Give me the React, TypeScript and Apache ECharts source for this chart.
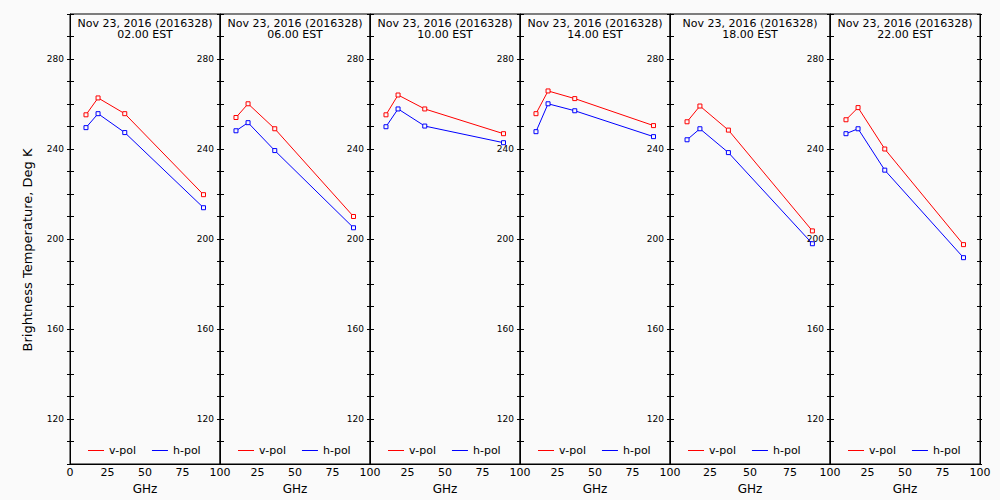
import React, { useEffect, useRef } from "react";
import * as echarts from "echarts";

const frequencies = [10.65, 18.7, 36.5, 89.0];
const dateLabel = "Nov 23, 2016 (2016328)";
const hourLabels = ["02.00 EST", "06.00 EST", "10.00 EST", "14.00 EST", "18.00 EST", "22.00 EST"];
const vPol = [
  [255.2, 262.7, 255.7, 219.7],
  [254.0, 260.1, 249.0, 210.0],
  [255.2, 264.0, 257.8, 246.8],
  [255.7, 265.8, 262.4, 250.4],
  [252.1, 259.1, 248.4, 203.6],
  [253.0, 258.4, 240.0, 197.5],
];
const hPol = [
  [249.5, 255.7, 247.3, 213.9],
  [248.1, 251.7, 239.3, 205.0],
  [249.9, 257.8, 250.2, 242.8],
  [247.7, 260.1, 257.0, 245.5],
  [244.1, 249.0, 238.4, 197.9],
  [246.8, 249.0, 230.6, 191.7],
];
const xTickLabels = [0, 25, 50, 75, 100];
const yLabelValues = [120, 160, 200, 240, 280];

const FONT = "DejaVu Sans";
const panelLefts = [70, 220, 370, 520, 670, 830];
const panelWidths = [150, 150, 150, 150, 160, 150];
const TOP = 14;
const BOTTOM = 36;

export default function App() {
  const ref = useRef<HTMLDivElement>(null);
  useEffect(() => {
    if (!ref.current) return;
    const chart = echarts.init(ref.current, undefined, { renderer: "svg" });
    const grids: any[] = [];
    const xAxes: any[] = [];
    const yAxes: any[] = [];
    const series: any[] = [];
    const titles: any[] = [];
    const legends: any[] = [];

    const yBase = { type: "value", min: 100, max: 300, interval: 10 };
    const titleStyle = { color: "#000", fontFamily: FONT, fontSize: 11, fontWeight: "normal", lineHeight: 11 };

    panelLefts.forEach((left, i) => {
      const w = panelWidths[i];
      grids.push({
        left, top: TOP, width: w, bottom: BOTTOM,
        show: true, borderColor: "#000", borderWidth: 1, backgroundColor: "transparent",
      });
      xAxes.push({
        type: "value", gridIndex: i, min: 0, max: 100, interval: 25,
        axisLine: { show: true, lineStyle: { color: "#000", width: 1 } },
        axisTick: { show: false },
        splitLine: { show: false },
        axisLabel: {
          color: "#000", fontFamily: FONT, fontSize: 11, margin: 3,
          formatter: (v: number) => (xTickLabels.includes(v) && !(i > 0 && v === 0) ? String(v) : ""),
        },
        name: "GHz", nameLocation: "middle", nameGap: 13,
        nameTextStyle: { color: "#000", fontFamily: FONT, fontSize: 12 },
      });
      const yIdx = yAxes.length;
      yAxes.push({
        ...yBase, gridIndex: i, position: "left",
        axisLine: { show: true, lineStyle: { color: "#000", width: 1 } },
        axisTick: { show: true, inside: true, length: 4, lineStyle: { color: "#000" } },
        splitLine: { show: false },
        axisLabel: {
          color: "#000", fontFamily: FONT, fontSize: 9, margin: 6,
          formatter: (v: number) => (yLabelValues.includes(v) ? String(v) : ""),
        },
      });
      yAxes.push({
        ...yBase, gridIndex: i, position: "left",
        axisLine: { show: false },
        axisTick: { show: true, inside: false, length: 3, lineStyle: { color: "#000" } },
        splitLine: { show: false },
        axisLabel: { show: false },
      });
      if (i === panelLefts.length - 1) {
        yAxes.push({
          ...yBase, gridIndex: i, position: "right",
          axisLine: { show: true, lineStyle: { color: "#000", width: 1 } },
          axisTick: { show: true, inside: true, length: 3, lineStyle: { color: "#000" } },
          splitLine: { show: false },
          axisLabel: { show: false },
        });
        yAxes.push({
          ...yBase, gridIndex: i, position: "right",
          axisLine: { show: false },
          axisTick: { show: true, inside: false, length: 2, lineStyle: { color: "#000" } },
          splitLine: { show: false },
          axisLabel: { show: false },
        });
      }
      const mk = (name: string, color: string, vals: number[]) => ({
        name, type: "line", xAxisIndex: i, yAxisIndex: yIdx,
        data: frequencies.map((f, k) => [f, vals[k]]),
        symbol: "rect", symbolSize: 4, showSymbol: true,
        color,
        lineStyle: { color, width: 1 },
        itemStyle: { color: "#fafafa", borderColor: color, borderWidth: 1 },
        emphasis: { disabled: true },
      });
      series.push(mk("v-pol", "#ff0000", vPol[i]));
      series.push(mk("h-pol", "#0000ff", hPol[i]));
      titles.push({
        text: dateLabel,
        left: left + w / 2, top: 17.5, textAlign: "center", padding: 0,
        textStyle: titleStyle,
      });
      titles.push({
        text: hourLabels[i],
        left: left + w / 2, top: 29, textAlign: "center", padding: 0,
        textStyle: titleStyle,
      });
      legends.push({
        data: [
          { name: "v-pol", itemStyle: { color: "#ff0000", borderWidth: 0 } },
          { name: "h-pol", itemStyle: { color: "#0000ff", borderWidth: 0 } },
        ],
        left: left + 18, top: 444, padding: 0, icon: "rect",
        itemWidth: 16, itemHeight: 1, itemGap: 16,
        itemStyle: { borderWidth: 0 },
        selectedMode: false,
        textStyle: { color: "#000", fontFamily: FONT, fontSize: 11, lineHeight: 13, padding: [0, 0, 0, 0] },
      });
    });

    chart.setOption({
      animation: false,
      backgroundColor: "#fafafa",
      title: titles,
      legend: legends,
      grid: grids,
      xAxis: xAxes,
      yAxis: yAxes,
      series,
      graphic: [
        {
          type: "text", x: 27, y: 250, rotation: Math.PI / 2,
          style: {
            text: "Brightness Temperature, Deg K", fill: "#000",
            font: `13px ${FONT}`, textAlign: "center", textVerticalAlign: "middle",
          },
        },
      ],
    });
    return () => chart.dispose();
  }, []);
  return <div ref={ref} style={{ position: "fixed", left: 0, top: 0, width: 1000, height: 500 }} />;
}
